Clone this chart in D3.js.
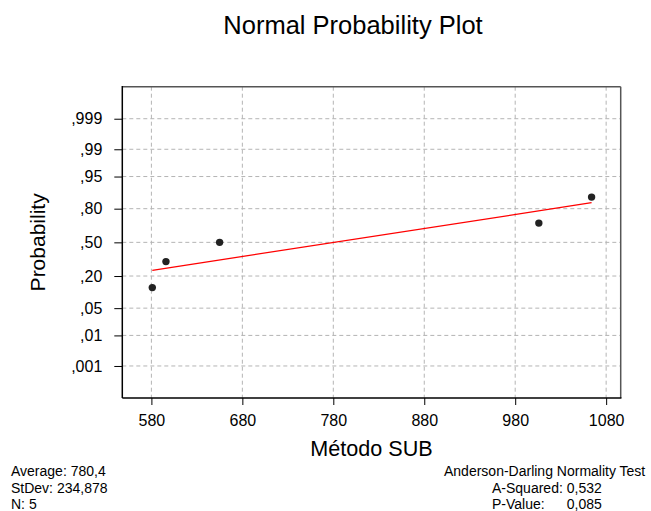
<!DOCTYPE html>
<html><head><meta charset="utf-8">
<script src="https://cdn.jsdelivr.net/npm/d3@7"></script>
<style>
body{margin:0;background:#fff}
text{font-family:"Liberation Sans",Arial,sans-serif;fill:#000}
</style>
</head><body>
<svg id="c" width="651" height="511"></svg>
<script>
// ---- data ----
const sampleValues = [581, 596, 655, 1006, 1064];
const sampleProbs = [0.129, 0.315, 0.5, 0.685, 0.871];
const fitX = [581, 1064];
const fitProbs = [0.242, 0.839];
const xTicks = [580, 680, 780, 880, 980, 1080];
const yTicks = [0.001, 0.01, 0.05, 0.2, 0.5, 0.8, 0.95, 0.99, 0.999];
const yTickLabels = [",001", ",01", ",05", ",20", ",50", ",80", ",95", ",99", ",999"];
const titleText = "Normal Probability Plot";
const xLabel = "Método SUB";
const yLabel = "Probability";
const statsLines = ["Average: 780,4", "StDev: 234,878", "N: 5"];
const testTitle = "Anderson-Darling Normality Test";
const testRowLabels = ["A-Squared:", "P-Value:"];
const testRowValues = ["0,532", "0,085"];

// inverse standard normal CDF (probability-axis transform)
function qnorm(p){
  const a=[-3.969683028665376e+01,2.209460984245205e+02,-2.759285104469687e+02,1.383577518672690e+02,-3.066479806614716e+01,2.506628277459239e+00];
  const b=[-5.447609879822406e+01,1.615858368580409e+02,-1.556989798598866e+02,6.680131188771972e+01,-1.328068155288572e+01];
  const c=[-7.784894002430293e-03,-3.223964580411365e-01,-2.400758277161838e+00,-2.549732539343734e+00,4.374664141464968e+00,2.938163982698783e+00];
  const d=[7.784695709041462e-03,3.224671290700398e-01,2.445134137142996e+00,3.754408661907416e+00];
  const pl=0.02425;
  if(p<pl){const q=Math.sqrt(-2*Math.log(p));return (((((c[0]*q+c[1])*q+c[2])*q+c[3])*q+c[4])*q+c[5])/((((d[0]*q+d[1])*q+d[2])*q+d[3])*q+1);}
  if(p>1-pl){const q=Math.sqrt(-2*Math.log(1-p));return -(((((c[0]*q+c[1])*q+c[2])*q+c[3])*q+c[4])*q+c[5])/((((d[0]*q+d[1])*q+d[2])*q+d[3])*q+1);}
  const q=p-0.5,r=q*q;
  return (((((a[0]*r+a[1])*r+a[2])*r+a[3])*r+a[4])*r+a[5])*q/(((((b[0]*r+b[1])*r+b[2])*r+b[3])*r+b[4])*r+1);
}

// ---- layout ----
const L = 122.3, R = 620.7, T = 86.7, B = 398;
const svg = d3.select("#c");

const x = d3.scaleLinear().domain([548, 1096]).range([L, R]);
const z = d3.scaleLinear().domain([qnorm(0.00005), qnorm(0.99995)]).range([B, T]);
const y = p => z(qnorm(p));

// grid
const grid = svg.append("g").attr("stroke", "#b4b4b4").attr("stroke-dasharray", "4,3").attr("stroke-width", 1);
grid.selectAll("line.v").data(xTicks).join("line").attr("class","v")
  .attr("x1", d => x(d)).attr("x2", d => x(d)).attr("y1", T).attr("y2", B);
grid.selectAll("line.h").data(yTicks).join("line").attr("class","h")
  .attr("x1", L).attr("x2", R).attr("y1", d => y(d)).attr("y2", d => y(d));

// frame
svg.append("line").attr("x1", L).attr("x2", R).attr("y1", T).attr("y2", T).attr("stroke", "#555").attr("stroke-width", 1.5);
svg.append("line").attr("x1", R).attr("x2", R).attr("y1", T).attr("y2", B).attr("stroke", "#555").attr("stroke-width", 1.5);

// axes
const xAxis = svg.append("g").attr("transform", `translate(0,${B})`)
  .call(d3.axisBottom(x).tickValues(xTicks).tickSize(7).tickPadding(9.5).tickFormat(d3.format("d")));
const yAxis = svg.append("g").attr("transform", `translate(${L},0)`)
  .call(d3.axisLeft(z).tickValues(yTicks.map(qnorm)).tickSize(8).tickPadding(12).tickFormat((d, i) => yTickLabels[i]));
[xAxis, yAxis].forEach(g => {
  g.select(".domain").remove();
  g.selectAll(".tick line").attr("stroke", "#000");
  g.selectAll("text").attr("font-family", "Liberation Sans, Arial, sans-serif").attr("fill", "#000");
});
xAxis.selectAll("text").attr("font-size", 16);
yAxis.selectAll("text").attr("font-size", 16);
svg.append("line").attr("x1", L).attr("x2", R+0.75).attr("y1", B).attr("y2", B).attr("stroke", "#000").attr("stroke-width", 1.5);
svg.append("line").attr("x1", L).attr("x2", L).attr("y1", T-0.75).attr("y2", B).attr("stroke", "#000").attr("stroke-width", 1.5);

// fit line
svg.append("line")
  .attr("x1", x(fitX[0])).attr("y1", y(fitProbs[0]))
  .attr("x2", x(fitX[1])).attr("y2", y(fitProbs[1]))
  .attr("stroke", "#ff0000").attr("stroke-width", 1.3);

// points
svg.selectAll("circle.pt").data(sampleValues).join("circle").attr("class","pt")
  .attr("cx", d => x(d)).attr("cy", (d, i) => y(sampleProbs[i]))
  .attr("r", 3.7).attr("fill", "#222");

// titles
svg.append("text").attr("x", 353).attr("y", 34).attr("text-anchor", "middle")
  .attr("font-size", 25.5).text(titleText);
svg.append("text").attr("x", (L+R)/2).attr("y", 456).attr("text-anchor", "middle")
  .attr("font-size", 21.6).text(xLabel);
svg.append("text").attr("transform", `translate(45,${(T+B)/2}) rotate(-90)`).attr("text-anchor", "middle")
  .attr("font-size", 21).text(yLabel);

// stats
svg.selectAll("text.st").data(statsLines).join("text").attr("class","st")
  .attr("x", 11).attr("y", (d, i) => 476 + i*16.7).attr("font-size", 14).text(d => d);

svg.append("text").attr("x", 444).attr("y", 476).attr("font-size", 14).text(testTitle);
const aLine = svg.append("text").attr("x", 492).attr("y", 492.7).attr("font-size", 14)
  .text(testRowLabels[0] + " " + testRowValues[0]);
const endX = 492 + aLine.node().getComputedTextLength();
svg.append("text").attr("x", 492).attr("y", 509.4).attr("font-size", 14).text(testRowLabels[1]);
svg.append("text").attr("x", endX).attr("y", 509.4).attr("font-size", 14).attr("text-anchor", "end").text(testRowValues[1]);
</script>
</body></html>
